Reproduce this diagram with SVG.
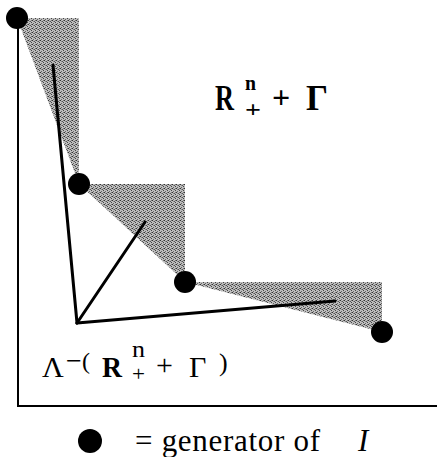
<svg xmlns="http://www.w3.org/2000/svg" width="437" height="457" viewBox="0 0 437 457">
  <style>
    .axis { stroke: #000; stroke-width: 2; fill: none; }
    .ray { stroke: #000; stroke-width: 3; fill: none; stroke-linecap: round; }
    .gen { fill: #000; }
    .t { font-family: "Liberation Serif", "Times New Roman", serif; fill: #000; }
    .b { font-weight: bold; }
  </style>
  <defs>
    <pattern id="stip" width="4" height="4" patternUnits="userSpaceOnUse">
      <rect width="4" height="4" fill="#bdbdbd"/>
      <rect x="0" y="0" width="1" height="1" fill="#333"/>
      <rect x="2" y="1" width="1" height="1" fill="#555"/>
      <rect x="3" y="2" width="1" height="1" fill="#444"/>
      <rect x="1" y="3" width="1" height="1" fill="#666"/>
      <rect x="1" y="1" width="1" height="1" fill="#888"/>
      <rect x="3" y="0" width="1" height="1" fill="#777"/>
    </pattern>
  </defs>

  <g id="shading">
    <polygon points="17,18 79,18 79,184" fill="url(#stip)"/>
    <polygon points="79,184 185,184 185,282" fill="url(#stip)"/>
    <polygon points="185,282 382,282 382,332" fill="url(#stip)"/>
  </g>

  <g id="axes">
    <line class="axis" x1="18" y1="18" x2="18" y2="406"/>
    <line class="axis" x1="17" y1="406" x2="437" y2="406"/>
  </g>

  <g id="connectors">
    <line class="ray" x1="53" y1="65" x2="77" y2="323"/>
    <line class="ray" x1="77" y1="323" x2="145" y2="222"/>
    <line class="ray" x1="77" y1="323" x2="335" y2="301"/>
  </g>

  <g id="gen1"><circle class="gen" cx="17" cy="18" r="11"/></g>
  <g id="gen2"><circle class="gen" cx="79" cy="184" r="11"/></g>
  <g id="gen3"><circle class="gen" cx="185" cy="282" r="11"/></g>
  <g id="gen4"><circle class="gen" cx="382" cy="332" r="11"/></g>

  <g id="label-top">
    <text class="t b" x="215" y="110" font-size="35" textLength="19" lengthAdjust="spacingAndGlyphs">R</text>
    <text class="t b" x="245" y="90" font-size="22" textLength="11" lengthAdjust="spacingAndGlyphs">n</text>
    <text class="t b" x="245" y="117" font-size="24" textLength="16" lengthAdjust="spacingAndGlyphs">+</text>
    <text class="t b" x="272" y="108" font-size="32">+</text>
    <text class="t b" x="306" y="110" font-size="35" textLength="22" lengthAdjust="spacingAndGlyphs">Γ</text>
  </g>

  <g id="label-bottom">
    <text class="t" x="42" y="377" font-size="30">Λ</text>
    <text class="t" x="66" y="370" font-size="28">−</text>
    <text class="t" x="82" y="369" font-size="24">(</text>
    <text class="t b" x="102" y="377" font-size="30" textLength="20" lengthAdjust="spacingAndGlyphs">R</text>
    <text class="t" x="132" y="357" font-size="24" textLength="13" lengthAdjust="spacingAndGlyphs">n</text>
    <text class="t" x="132" y="381" font-size="21" textLength="13" lengthAdjust="spacingAndGlyphs">+</text>
    <text class="t" x="156" y="375" font-size="30">+</text>
    <text class="t" x="189" y="377" font-size="30">Γ</text>
    <text class="t" x="219" y="371" font-size="26">)</text>
  </g>

  <g id="legend">
    <circle class="gen" cx="90" cy="441" r="12"/>
    <text class="t" x="135" y="451" font-size="31" textLength="185">= generator of</text>
    <text class="t" x="358" y="451" font-size="31" font-style="italic">I</text>
  </g>
</svg>
